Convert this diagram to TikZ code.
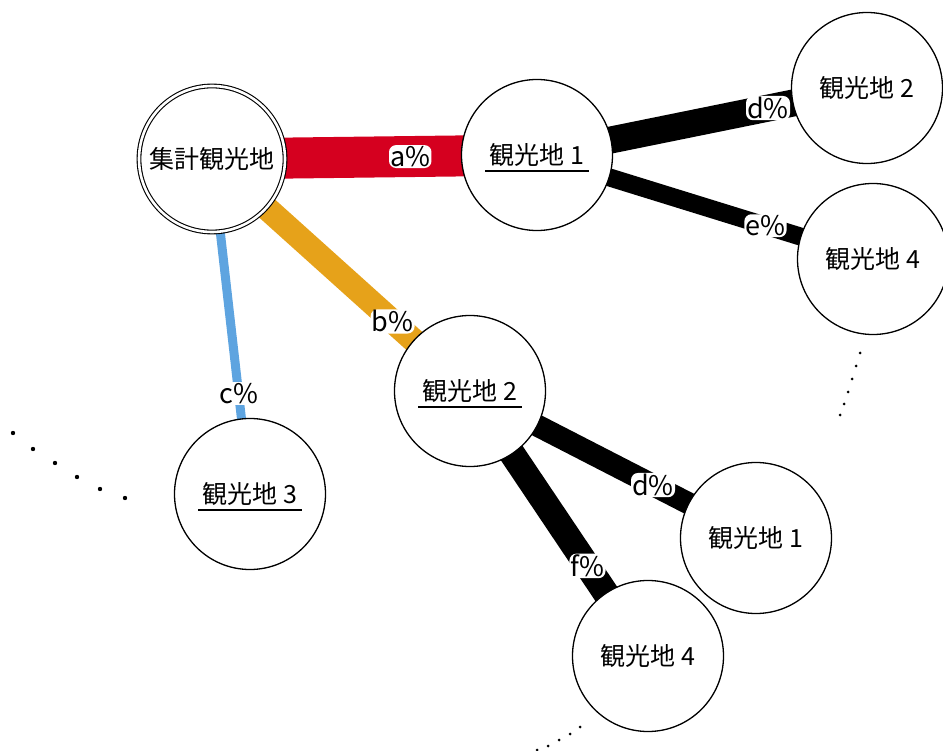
\documentclass[tikz,border=0pt]{standalone}
\usepackage{fontspec}
\setmainfont{Noto Sans CJK JP}
\definecolor{ered}{HTML}{D5001F}
\definecolor{eorange}{HTML}{E6A21A}
\definecolor{eblue}{HTML}{5EA4E0}
\tikzset{
  place/.style={circle, draw=black, line width=1.3pt, fill=white, minimum size=151pt, inner sep=0pt, font=\fontsize{25}{28}\selectfont},
  hubplace/.style={place, double=white, double distance=2.6pt, line width=1.1pt, minimum size=146pt},
  edge/.style={line cap=butt},
  pct/.style={fill=white, rounded corners=7pt, inner sep=1.2pt, font=\fontsize{27}{29}\selectfont},
  ul/.style={line width=1.6pt},
  dot/.style={fill=black}
}
\begin{document}
\begin{tikzpicture}[x=1pt,y=-1pt]
\useasboundingbox (0,0) rectangle (943,751);
% node centres
\coordinate (pH) at (212,159);
\coordinate (pA1) at (537,155);
\coordinate (pD2) at (867,88);
\coordinate (pE4) at (873,259);
\coordinate (pB2) at (470,391);
\coordinate (pC3) at (250,494);
\coordinate (pD1) at (756,538);
\coordinate (pF4) at (648,656);
% edges
\draw[edge, ered, line width=41pt] (pH) -- (pA1) node[pct, pos=0.61, text=black] {a\%};
\draw[edge, eorange, line width=24pt] (pH) -- (pB2) node[pct, pos=0.70, text=black] {b\%};
\draw[edge, eblue, line width=9pt] (pH) -- (pC3) node[pct, pos=0.70, text=black] {c\%};
\draw[edge, black, line width=27pt] (pA1) -- (pD2) node[pct, pos=0.70] {d\%};
\draw[edge, black, line width=18pt] (pA1) -- (pE4) node[pct, pos=0.68] {e\%};
\draw[edge, black, line width=22pt] (pB2) -- (pD1) node[pct, pos=0.64] {d\%};
\draw[edge, black, line width=26pt] (pB2) -- (pF4) node[pct, pos=0.66] {f\%};
% nodes
\node[hubplace] (H) at (pH) {集計観光地};
\node[place] (A1) at (pA1) {観光地 1};
\node[place] (D2) at (pD2) {観光地 2};
\node[place] (E4) at (pE4) {観光地 4};
\node[place] (B2) at (pB2) {観光地 2};
\node[place] (C3) at (pC3) {観光地 3};
\node[place] (D1) at (pD1) {観光地 1};
\node[place] (F4) at (pF4) {観光地 4};
% underlines
\draw[ul] ([shift={(-52,16)}]A1.center) -- ++(104,0);
\draw[ul] ([shift={(-52,16)}]B2.center) -- ++(104,0);
\draw[ul] ([shift={(-52,16)}]C3.center) -- ++(104,0);
% continuation dots
\foreach \p in {(13,433),(33,449),(55,463),(77,477),(100,489),(125,498)}
  \fill[dot] \p circle (2.2pt);
\foreach \p in {(860,353),(856,366),(852,379),(848,392),(844,404),(840,415)}
  \fill[dot] \p circle (1.5pt);
\foreach \p in {(580,727),(570,734),(559,740),(548,746),(537,750)}
  \fill[dot] \p circle (1.5pt);
\end{tikzpicture}
\end{document}
